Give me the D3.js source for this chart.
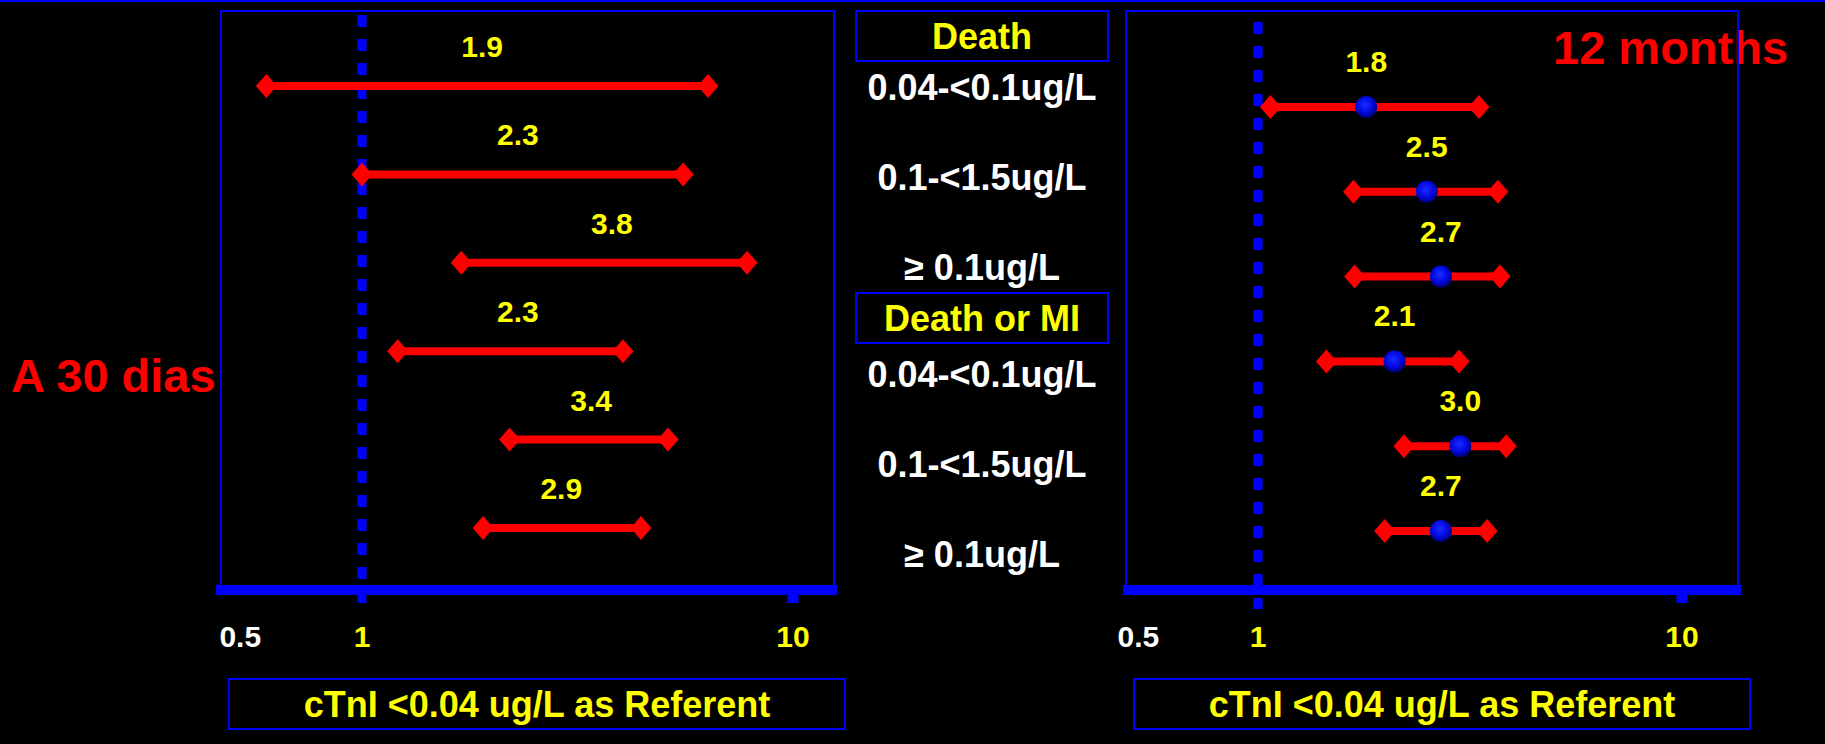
<!DOCTYPE html>
<html>
<head>
<meta charset="utf-8">
<script src="https://cdn.jsdelivr.net/npm/d3@7"></script>
<style>
  body { margin: 0; background: #000; }
  svg { display: block; }
  text { font-family: "Liberation Sans", Arial, sans-serif; font-weight: bold; }
</style>
</head>
<body>
<svg width="1825" height="744"></svg>
<script>
// rows, shared by both panels
var groups = ["Death", "Death or MI"]
var rowLabels = ["0.04-<0.1ug/L", "0.1-<1.5ug/L", "\u2265 0.1ug/L", "0.04-<0.1ug/L", "0.1-<1.5ug/L", "\u2265 0.1ug/L"]

// 30 days: odds ratio and 95% CI
var or30 = [1.9, 2.3, 3.8, 2.3, 3.4, 2.9]
var lo30 = [0.60, 1.0, 1.70, 1.21, 2.20, 1.91]
var hi30 = [6.35, 5.56, 7.82, 4.03, 5.13, 4.44]

// 12 months
var or12 = [1.8, 2.5, 2.7, 2.1, 3.0, 2.7]
var lo12 = [1.07, 1.68, 1.69, 1.45, 2.21, 1.99]
var hi12 = [3.32, 3.68, 3.72, 2.98, 3.85, 3.47]

var tickVals = [0.5, 1, 10]
var axisTitle = "cTnI <0.04 ug/L as Referent"

var svg = d3.select("svg")
svg.append("rect").attr("width", 1825).attr("height", 744).attr("fill", "#000")
svg.append("line").attr("x1", 0).attr("x2", 1825).attr("y1", 1).attr("y2", 1)
    .attr("stroke", "#0000ff").attr("stroke-width", 2)

var blue = "#0000ff", red = "#ff0000", yellow = "#ffff00"

// gradient for the blue dots
var grad = svg.append("defs").append("radialGradient").attr("id", "dot")
    .attr("cx", "45%").attr("cy", "40%").attr("r", "60%")
grad.append("stop").attr("offset", "0%").attr("stop-color", "#1a2cff")
grad.append("stop").attr("offset", "60%").attr("stop-color", "#0008e0")
grad.append("stop").attr("offset", "100%").attr("stop-color", "#000070")

var panels = [
    {or: or30, lo: lo30, hi: hi30, box: [221, 834], axis: [216, 837], range: [362, 793],
     rows: [86, 528], labelUp: 40, dots: false, dashTop: 15, dashBot: 603, title: [229, 845]},
    {or: or12, lo: lo12, hi: hi12, box: [1126, 1738], axis: [1123, 1741], range: [1258, 1682],
     rows: [107, 531], labelUp: 46, dots: true, dashTop: 22, dashBot: 609, title: [1134, 1750]}
]

panels.forEach(function(p) {
    var x = d3.scaleLog().domain([1, 10]).range(p.range)
    var y = d3.scalePoint().domain(d3.range(p.or.length)).range(p.rows)
    var g = svg.append("g")

    // dashed reference line at OR = 1
    g.append("line")
        .attr("x1", x(1)).attr("x2", x(1))
        .attr("y1", p.dashTop).attr("y2", p.dashBot)
        .attr("stroke", blue).attr("stroke-width", 9)
        .attr("stroke-dasharray", "12,12")

    // CI lines
    g.selectAll(".ci").data(p.or).enter().append("line")
        .attr("x1", function(d, i) { return x(p.lo[i]) })
        .attr("x2", function(d, i) { return x(p.hi[i]) })
        .attr("y1", function(d, i) { return y(i) })
        .attr("y2", function(d, i) { return y(i) })
        .attr("stroke", red).attr("stroke-width", 8)

    // diamond ends
    var ends = []
    p.or.forEach(function(d, i) { ends.push([p.lo[i], i]); ends.push([p.hi[i], i]) })
    g.selectAll(".end").data(ends).enter().append("path")
        .attr("d", function(d) {
            var cx = x(d[0]), cy = y(d[1])
            return "M" + (cx - 10.5) + "," + cy + "L" + cx + "," + (cy - 12) +
                   "L" + (cx + 10.5) + "," + cy + "L" + cx + "," + (cy + 12) + "Z"
        })
        .attr("fill", red)

    if (p.dots) {
        g.selectAll(".dot").data(p.or).enter().append("circle")
            .attr("cx", function(d) { return x(d) })
            .attr("cy", function(d, i) { return y(i) })
            .attr("r", 11)
            .attr("fill", "url(#dot)")
    }

    // OR values
    g.selectAll(".val").data(p.or).enter().append("text")
        .attr("x", function(d) { return x(d) })
        .attr("y", function(d, i) { return y(i) - p.labelUp + 11 })
        .attr("text-anchor", "middle")
        .attr("font-size", 30)
        .attr("fill", yellow)
        .text(function(d) { return d.toFixed(1) })

    // panel frame
    g.append("rect")
        .attr("x", p.box[0]).attr("y", 11)
        .attr("width", p.box[1] - p.box[0]).attr("height", 580)
        .attr("fill", "none").attr("stroke", blue).attr("stroke-width", 2)

    // axis
    g.append("line")
        .attr("x1", p.axis[0]).attr("x2", p.axis[1])
        .attr("y1", 590).attr("y2", 590)
        .attr("stroke", blue).attr("stroke-width", 10)
    g.append("rect")
        .attr("x", x(10) - 5.5).attr("y", 594)
        .attr("width", 11).attr("height", 9)
        .attr("fill", blue)
    g.selectAll(".tick").data(tickVals).enter().append("text")
        .attr("x", function(d) { return d < 1 ? x(d) + 8 : x(d) })
        .attr("y", 647)
        .attr("text-anchor", "middle")
        .attr("font-size", 30)
        .attr("fill", function(d) { return d < 1 ? "#ffffff" : yellow })
        .text(function(d) { return d })

    // axis title box
    g.append("rect")
        .attr("x", p.title[0]).attr("y", 679)
        .attr("width", p.title[1] - p.title[0]).attr("height", 50)
        .attr("fill", "none").attr("stroke", blue).attr("stroke-width", 2)
    g.append("text")
        .attr("x", (p.title[0] + p.title[1]) / 2).attr("y", 717)
        .attr("text-anchor", "middle")
        .attr("font-size", 36)
        .attr("fill", yellow)
        .text(axisTitle)
})

// middle row labels
var midX = 982
var midY = function(i) { return 88 + i * 90 + (i >= 3 ? 17 : 0) }
svg.selectAll(".row").data(rowLabels).enter().append("text")
    .attr("x", midX)
    .attr("y", function(d, i) { return midY(i) + 12 })
    .attr("text-anchor", "middle")
    .attr("font-size", 36)
    .attr("fill", "#ffffff")
    .text(function(d) { return d })

var groupY = [11, 293]
groups.forEach(function(name, k) {
    svg.append("rect")
        .attr("x", 856).attr("y", groupY[k])
        .attr("width", 252).attr("height", 50)
        .attr("fill", "none").attr("stroke", blue).attr("stroke-width", 2)
    svg.append("text")
        .attr("x", midX).attr("y", groupY[k] + 38)
        .attr("text-anchor", "middle")
        .attr("font-size", 36)
        .attr("fill", yellow)
        .text(name)
})

// time labels
svg.append("text").attr("x", 11).attr("y", 392)
    .attr("font-size", 47).attr("fill", red).text("A 30 dias")
svg.insert("text", "g:last-of-type").attr("x", 1553).attr("y", 64)
    .attr("font-size", 47).attr("fill", red).text("12 months")
</script>
</body>
</html>
